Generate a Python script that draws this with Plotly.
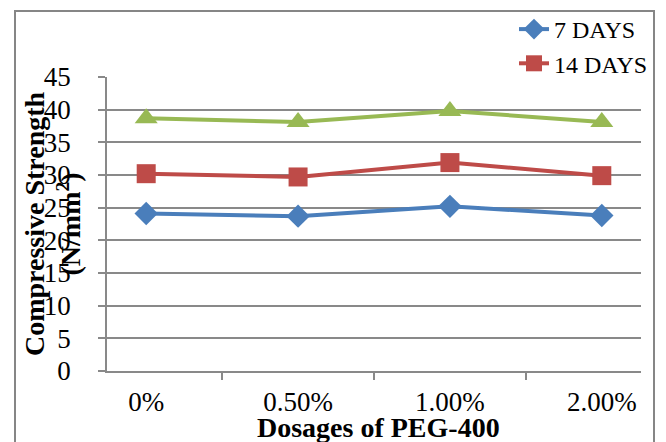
import plotly.graph_objects as go

categories = ["0%", "0.50%", "1.00%", "2.00%"]
days7 = [24.1, 23.7, 25.2, 23.8]
days14 = [30.2, 29.7, 31.9, 29.9]
days28 = [38.7, 38.1, 39.8, 38.1]
yticks = [0, 5, 10, 15, 20, 25, 30, 35, 40, 45]

FONT = "Liberation Serif"
FS = 27

fig = go.Figure()
fig.add_trace(go.Scatter(x=categories, y=days7, name="7 DAYS", mode="lines+markers",
                         line=dict(color="#4A7EBB", width=4),
                         marker=dict(symbol="diamond", size=18, color="#4A7EBB")))
fig.add_trace(go.Scatter(x=categories, y=days14, name="14 DAYS", mode="lines+markers",
                         line=dict(color="#BE4B48", width=4),
                         marker=dict(symbol="square", size=19, color="#BE4B48")))
fig.add_trace(go.Scatter(x=categories, y=days28, name="28 DAYS", mode="lines+markers",
                         showlegend=False,
                         line=dict(color="#98B954", width=4),
                         marker=dict(symbol="triangle-up", size=20, color="#98B954")))

grid = "#898989"
fig.update_layout(
    width=666, height=442,
    margin=dict(l=107, r=25, t=77, b=71, autoexpand=False),
    paper_bgcolor="white", plot_bgcolor="white",
    font=dict(family=FONT, size=FS, color="black"),
    showlegend=True,
    legend=dict(x=(514 - 107) / 534, y=(371 - 7) / 294, xanchor="left", yanchor="top",
                bgcolor="rgba(0,0,0,0)", font=dict(family=FONT, size=24),
                tracegroupgap=0, itemwidth=30),
    xaxis=dict(type="category", tickson="boundaries", ticks="outside", ticklen=7,
               tickcolor=grid, tickwidth=1.5, showline=True, linecolor=grid, linewidth=1.5,
               showgrid=False, zeroline=False, ticklabelstandoff=6,
               tickfont=dict(family=FONT, size=FS)),
    yaxis=dict(range=[0, 45], tickvals=yticks, ticks="outside", ticklen=7,
               tickcolor=grid, tickwidth=1.5, showline=True, linecolor=grid, linewidth=1.5,
               showgrid=True, gridcolor=grid, gridwidth=1.5, zeroline=False,
               ticklabelstandoff=22, tickfont=dict(family=FONT, size=FS)),
)

fig.add_annotation(text="<b>Compressive Strength<br>(N/mm<sup>2</sup>)</b>",
                   xref="paper", yref="paper", x=(52 - 107) / 534, y=(371 - 224) / 294,
                   xanchor="center", yanchor="middle", textangle=-90, showarrow=False,
                   font=dict(family=FONT, size=28), align="center")
fig.add_annotation(text="<b>Dosages of PEG-400</b>",
                   xref="paper", yref="paper", x=(378 - 107) / 534, y=(371 - 427) / 294,
                   xanchor="center", yanchor="middle", showarrow=False,
                   font=dict(family=FONT, size=28))

fig.add_shape(type="rect", xref="paper", yref="paper",
              x0=(15 - 107) / 534, x1=(654 - 107) / 534,
              y0=(371 - 470) / 294, y1=(371 - 11) / 294,
              line=dict(color="#868686", width=2), fillcolor="rgba(0,0,0,0)", layer="below")

fig.write_html("out.html")
